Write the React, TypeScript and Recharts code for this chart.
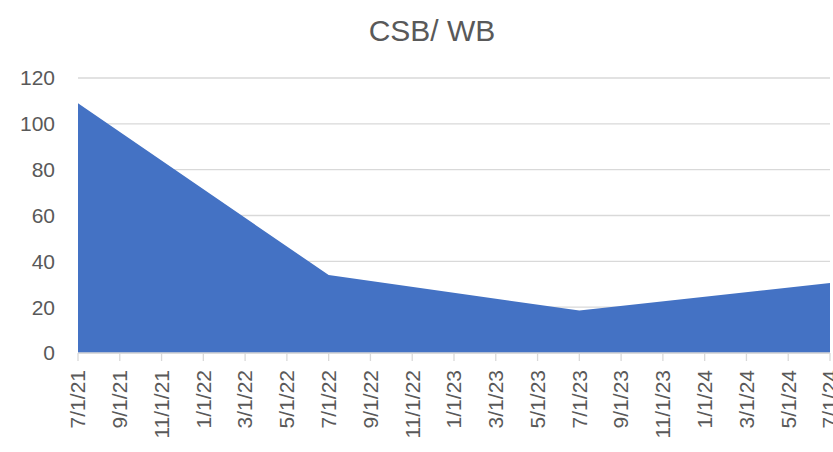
import React from 'react';
import { AreaChart, Area, XAxis, YAxis, CartesianGrid } from 'recharts';

// data points (one per year)
const dates = ['7/1/21', '7/1/22', '7/1/23', '7/1/24'];
const values = [109, 34, 18.5, 30.5];

// axis labels, bi-monthly as in the source
const tickLabels = [
  '7/1/21', '9/1/21', '11/1/21', '1/1/22', '3/1/22', '5/1/22', '7/1/22',
  '9/1/22', '11/1/22', '1/1/23', '3/1/23', '5/1/23', '7/1/23', '9/1/23',
  '11/1/23', '1/1/24', '3/1/24', '5/1/24', '7/1/24',
];
const yTicks = [0, 20, 40, 60, 80, 100, 120];

const FONT = '"Liberation Sans", Arial, sans-serif';
const TEXT = '#595959';

// months since 7/1/21
const monthIndex = (label: string) => {
  const [m, , y] = label.split('/').map(Number);
  return (y - 21) * 12 + (m - 7);
};

const chartData = dates.map((d, i) => ({ t: monthIndex(d), value: values[i] }));
const xTicks = tickLabels.map(monthIndex);
const labelByIndex: Record<number, string> = {};
tickLabels.forEach((l) => { labelByIndex[monthIndex(l)] = l; });

const DateTick = (props: any) => {
  const { x, y, payload } = props;
  return (
    <g transform={`translate(${x},${y + 9}) rotate(-90)`}>
      <text x={0} y={0} dy="0.35em" textAnchor="end" fill={TEXT} fontSize={21} fontFamily={FONT}>
        {labelByIndex[payload.value]}
      </text>
    </g>
  );
};

export default function App() {
  return (
    <div style={{ position: 'absolute', left: 0, top: 0, width: 833, height: 452, background: '#fff', overflow: 'hidden' }}>
      <svg width={833} height={60} style={{ position: 'absolute', left: 0, top: 0 }}>
        <text x={432} y={41} textAnchor="middle" fill={TEXT} fontSize={30} fontFamily={FONT}>
          CSB/ WB
        </text>
      </svg>
      <AreaChart
        width={833}
        height={452}
        data={chartData}
        margin={{ top: 78, right: 3, bottom: 0, left: 0 }}
      >
        <CartesianGrid vertical={false} stroke="#D9D9D9" strokeWidth={1.3} />
        <XAxis
          dataKey="t"
          type="number"
          domain={[0, 36]}
          ticks={xTicks}
          interval={0}
          tick={<DateTick />}
          tickSize={8}
          tickMargin={0}
          height={99}
          axisLine={{ stroke: '#D9D9D9', strokeWidth: 1.3 }}
          tickLine={{ stroke: '#D9D9D9', strokeWidth: 1.3 }}
        />
        <YAxis
          domain={[0, 120]}
          ticks={yTicks}
          width={78}
          axisLine={false}
          tickLine={false}
          tickSize={0}
          tickMargin={23}
          tick={{ fill: TEXT, fontSize: 21, fontFamily: FONT }}
        />
        <Area
          type="linear"
          dataKey="value"
          stroke="none"
          fill="#4472C4"
          fillOpacity={1}
          isAnimationActive={false}
        />
      </AreaChart>
    </div>
  );
}
